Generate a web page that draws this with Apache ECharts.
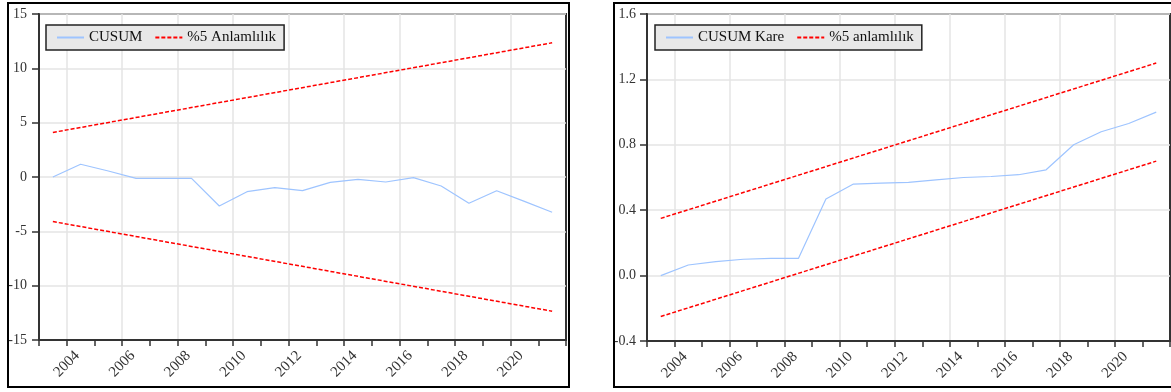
<!DOCTYPE html>
<html>
<head>
<meta charset="utf-8">
<script src="https://cdn.jsdelivr.net/npm/echarts@6/dist/echarts.min.js"></script>
<style>
html,body{margin:0;padding:0;background:#fff;}
#chart{width:1171px;height:392px;}
</style>
</head>
<body>
<div id="chart"></div>
<script>
// ---- data ----
const axisYears = ['2003','2004','2005','2006','2007','2008','2009','2010','2011','2012','2013','2014','2015','2016','2017','2018','2019','2020','2021','2022'];
const xTickLabels = ['2004','2006','2008','2010','2012','2014','2016','2018','2020'];
const obsYears = ['2003','2004','2005','2006','2007','2008','2009','2010','2011','2012','2013','2014','2015','2016','2017','2018','2019','2020','2021'];

const cusum = [0, 1.17, 0.55, -0.12, -0.12, -0.12, -2.67, -1.35, -0.98, -1.26, -0.49, -0.21, -0.46, -0.06, -0.83, -2.42, -1.26, -2.24, -3.25];
const cusumUpper = [4.1, null, null, null, null, null, null, null, null, null, null, null, null, null, null, null, null, null, 12.35];
const cusumLower = [-4.1, null, null, null, null, null, null, null, null, null, null, null, null, null, null, null, null, null, -12.35];

const cusumSq = [0, 0.065, 0.085, 0.10, 0.105, 0.105, 0.468, 0.56, 0.566, 0.57, 0.586, 0.60, 0.606, 0.617, 0.647, 0.80, 0.88, 0.93, 1.0];
const sqUpper = [0.35, null, null, null, null, null, null, null, null, null, null, null, null, null, null, null, null, null, 1.30];
const sqLower = [-0.25, null, null, null, null, null, null, null, null, null, null, null, null, null, null, null, null, null, 0.70];

const leftYTicks = {min: -15, max: 15, interval: 5};
const rightYTicks = {min: -0.4, max: 1.6, interval: 0.4};

const nameCusum = 'CUSUM';
const nameSig1 = '%5 Anlamlılık';
const nameCusumSq = 'CUSUM Kare';
const nameSig2 = '%5 anlamlılık';

// ---- styles ----
const FONT = '"Liberation Serif", "DejaVu Serif", serif';
const AXIS_COLOR = '#333';
const GRID_COLOR = '#e4e4e4';
const BLUE = '#9ec4ff';
const RED = '#ff0000';

function displayXAxis(gridIndex) {
  return {
    type: 'category', gridIndex: gridIndex, data: axisYears, boundaryGap: false,
    position: 'bottom',
    axisLine: {show: true, onZero: false, lineStyle: {color: AXIS_COLOR, width: 2}},
    axisTick: {show: true, interval: 0, length: 6, lineStyle: {color: AXIS_COLOR, width: 1.5}},
    axisLabel: {
      interval: function (i, v) { return xTickLabels.indexOf(v) >= 0; },
      rotate: 45, align: 'center', verticalAlign: 'middle', margin: 24,
      fontFamily: FONT, fontSize: 15, color: '#333'
    },
    splitLine: {show: true, interval: function (i, v) { return xTickLabels.indexOf(v) >= 0; },
      lineStyle: {color: GRID_COLOR, width: 1.5}}
  };
}
function dataXAxis(gridIndex) {
  return {
    type: 'category', gridIndex: gridIndex, data: obsYears, boundaryGap: true,
    show: false
  };
}
function yAxis(gridIndex, t, fmt, margin) {
  return {
    type: 'value', gridIndex: gridIndex, min: t.min, max: t.max, interval: t.interval,
    axisLine: {show: true, onZero: false, lineStyle: {color: AXIS_COLOR, width: 2}},
    axisTick: {show: true, length: 7, lineStyle: {color: AXIS_COLOR, width: 1.5}},
    axisLabel: {margin: margin, fontFamily: FONT, fontSize: 14, color: '#333', formatter: fmt},
    splitLine: {show: true, lineStyle: {color: GRID_COLOR, width: 1.5}}
  };
}
function legend(names, left) {
  return {
    data: names, left: left, top: 25, orient: 'horizontal',
    backgroundColor: '#e8e8e8', borderColor: '#222', borderWidth: 1.5, borderRadius: 0,
    padding: [5, 8, 5, 10], itemWidth: 27, itemHeight: 10, itemGap: 12,
    itemStyle: {opacity: 0},
    textStyle: {fontFamily: FONT, fontSize: 15, color: '#111'},
    selectedMode: false
  };
}
function blueLine(name, data, xi, yi) {
  return {name: name, type: 'line', data: data, xAxisIndex: xi, yAxisIndex: yi,
    symbol: 'none', lineStyle: {color: BLUE, width: 1.2}, itemStyle: {color: BLUE}, z: 3};
}
function redLine(name, data, xi, yi) {
  return {name: name, type: 'line', data: data, xAxisIndex: xi, yAxisIndex: yi,
    symbol: 'none', connectNulls: true,
    lineStyle: {color: RED, width: 1.5, type: [4, 2]}, itemStyle: {color: RED}, z: 3};
}

const chart = echarts.init(document.getElementById('chart'), null, {renderer: 'canvas'});
chart.setOption({
  animation: false,
  backgroundColor: '#fff',
  graphic: [
    {type: 'rect', shape: {x: 8, y: 3, width: 561, height: 384}, style: {fill: 'none', stroke: '#000', lineWidth: 2}, z: 100},
    {type: 'rect', shape: {x: 614, y: 3, width: 565, height: 384}, style: {fill: 'none', stroke: '#000', lineWidth: 2}, z: 100}
  ],
  grid: [
    {left: 39, top: 14, width: 527, height: 326, show: true, borderColor: AXIS_COLOR, borderWidth: 2, backgroundColor: '#fff'},
    {left: 647, top: 14, width: 523, height: 327, show: true, borderColor: AXIS_COLOR, borderWidth: 2, backgroundColor: '#fff'}
  ],
  legend: [legend([nameCusum, nameSig1], 46), legend([nameCusumSq, nameSig2], 655)],
  xAxis: [displayXAxis(0), dataXAxis(0), displayXAxis(1), dataXAxis(1)],
  yAxis: [
    yAxis(0, leftYTicks, function (v) { return String(v); }, 12),
    yAxis(1, rightYTicks, function (v) { return v.toFixed(1); }, 11)
  ],
  series: [
    blueLine(nameCusum, cusum, 1, 0),
    redLine(nameSig1, cusumUpper, 1, 0),
    redLine(nameSig1, cusumLower, 1, 0),
    blueLine(nameCusumSq, cusumSq, 3, 1),
    redLine(nameSig2, sqUpper, 3, 1),
    redLine(nameSig2, sqLower, 3, 1)
  ]
});
</script>
</body>
</html>
